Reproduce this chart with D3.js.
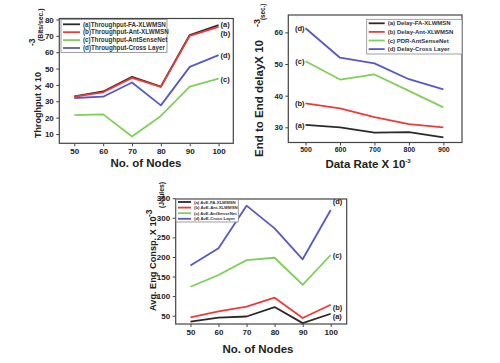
<!DOCTYPE html>
<html>
<head>
<meta charset="utf-8">
<script src="https://cdn.jsdelivr.net/npm/d3@7"></script>
<style>
  body { margin: 0; background: #fff; }
  svg { display: block; font-family: "Liberation Sans", Arial, sans-serif; font-weight: bold; }
</style>
</head>
<body>
<svg id="fig" width="500" height="363"></svg>
<script>
// ---- data ----
const nodes = [50, 60, 70, 80, 90, 100];
const thrFA = [33, 36, 45, 39, 70.5, 76.5];
const thrAnt = [32.8, 35.5, 44.3, 38.8, 70, 75.5];
const thrSense = [21.5, 22, 8.5, 21, 39, 43.8];
const thrCross = [32, 32.8, 41.5, 27.5, 51, 58.2];

const rates = [500, 600, 700, 800, 900];
const delayFA = [30.8, 30, 28.3, 28.5, 26.8];
const delayAnt = [37.6, 36, 33.2, 31, 30];
const pdrSense = [50.9, 45.1, 46.7, 41.5, 36.3];
const delayCross = [61.3, 52, 50.2, 45.2, 42];

const engFA = [35, 45, 48, 72, 31, 55];
const engAnt = [46, 61, 73, 96, 44, 78];
const engSense = [124, 154, 192, 198, 129, 205];
const engCross = [178, 222, 331, 273, 194, 320];

const colors = ["#2a2a2a", "#f03a3a", "#7fd05a", "#5858c4"];
const tags = ["(a)", "(b)", "(c)", "(d)"];

const svg = d3.select("#fig");

function chart(c) {
  const x = d3.scaleLinear().domain(c.xd).range([c.l, c.r]);
  const y = d3.scaleLinear().domain(c.yd).range([c.b, c.t]);
  const g = svg.append("g");

  // axes (ticks outside the frame)
  g.append("g").attr("transform", `translate(0,${c.b})`)
    .call(d3.axisBottom(x).tickValues(c.xt).tickSize(3).tickPadding(c.xpad || 2.5))
    .call(a => a.select(".domain").remove())
    .call(a => a.selectAll("text").attr("font-size", c.xfs || 8).attr("font-family", "inherit").attr("fill", "#222"))
    .call(a => a.selectAll("line").attr("stroke", "#444"));
  g.append("g").attr("transform", `translate(${c.l},0)`)
    .call(d3.axisLeft(y).tickValues(c.yt).tickSize(3).tickPadding(2.5))
    .call(a => a.select(".domain").remove())
    .call(a => a.selectAll("text").attr("font-size", c.yfs || 8).attr("font-family", "inherit").attr("fill", "#222"))
    .call(a => a.selectAll("line").attr("stroke", "#444"));

  // series
  const line = d3.line().x((d, i) => x(c.xs[i])).y(d => y(d));
  c.series.forEach((s, k) => {
    g.append("path").datum(s).attr("d", line)
      .attr("fill", "none").attr("stroke", colors[k]).attr("stroke-width", 1.8)
      .attr("stroke-linejoin", "round");
  });

  // frame
  g.append("rect").attr("x", c.l).attr("y", c.t).attr("width", c.r - c.l).attr("height", c.b - c.t)
    .attr("fill", "none").attr("stroke", "#444").attr("stroke-width", 1.2);

  // curve tags
  c.series.forEach((s, k) => {
    const i = c.tagAt === "start" ? 0 : s.length - 1;
    g.append("text")
      .attr("x", x(c.xs[i]) + (c.tagAt === "start" ? -1 : 2))
      .attr("y", y(s[i]) + c.tagDy[k])
      .attr("text-anchor", c.tagAt === "start" ? "end" : "start")
      .attr("font-size", c.tagFs).attr("fill", "#222").text(tags[k]);
  });

  // legend
  const L = c.leg;
  g.append("rect").attr("x", L.x).attr("y", L.y).attr("width", L.w).attr("height", L.h)
    .attr("fill", "#fff").attr("stroke", "#888").attr("stroke-width", 0.8);
  c.names.forEach((n, k) => {
    const yy = L.y + L.y0 + k * L.dy;
    g.append("line").attr("x1", L.x + 2).attr("x2", L.x + 2 + L.sw).attr("y1", yy).attr("y2", yy)
      .attr("stroke", colors[k]).attr("stroke-width", 1.8);
    g.append("text").attr("x", L.x + 5 + L.sw).attr("y", yy).attr("dy", "0.35em")
      .attr("font-size", L.fs).attr("fill", "#333").text(n);
  });

  // x title
  const xt = g.append("text").attr("x", c.xtitle.x).attr("y", c.xtitle.y)
    .attr("text-anchor", "middle").attr("font-size", 11.5).attr("fill", "#222");
  xt.append("tspan").text(c.xtitle.text);
  if (c.xtitle.sup) xt.append("tspan").attr("font-size", 6).attr("dy", -5).text(c.xtitle.sup);

  // y title parts (rotated)
  c.ytitle.forEach(p => {
    g.append("text").attr("transform", `translate(${p.x},${p.y}) rotate(-90)`)
      .attr("font-size", p.fs).attr("fill", "#222").text(p.text);
  });
}

chart({
  l: 59.3, r: 233.3, t: 18.5, b: 143.3,
  xd: [44.8, 105.1], yd: [4.3, 80.6],
  xt: nodes, yt: [10, 20, 30, 40, 50, 60, 70, 80],
  xs: nodes, series: [thrFA, thrAnt, thrSense, thrCross],
  tagAt: "end", tagDy: [2, 9, 3, 3], tagFs: 7.5,
  names: ["(a)Throughput-FA-XLWMSN", "(b)Throughput-Ant-XLWMSN", "(c)Throughput-AntSenseNet", "(d)Throughput-Cross Layer"],
  leg: { x: 61, y: 19.5, w: 106, h: 33, y0: 4.8, dy: 7.9, sw: 17, fs: 6.3 },
  xtitle: { x: 146, y: 167, text: "No. of Nodes" },
  ytitle: [
    { x: 41, y: 138, fs: 9, text: "Throghput X 10" },
    { x: 35, y: 46, fs: 8.5, text: "-3" },
    { x: 43, y: 41, fs: 6.8, text: "(Bits/sec.)" }
  ]
});

chart({
  l: 288.3, r: 462, t: 15, b: 142.5,
  xd: [450, 954], yd: [25.2, 65.5],
  xt: rates, yt: [30, 40, 50, 60], xfs: 7, yfs: 7.5, xpad: 1.5,
  xs: rates, series: [delayFA, delayAnt, pdrSense, delayCross],
  tagAt: "start", tagDy: [3, 3, 3, 3], tagFs: 7.5,
  names: ["(a) Delay-FA-XLWMSN", "(b) Delay-Ant-XLWMSN", "(c) PDR-AntSenseNet", "(d) Delay-Cross Layer"],
  leg: { x: 366.7, y: 19.3, w: 95.3, h: 34.7, y0: 4, dy: 8.6, sw: 16, fs: 6 },
  xtitle: { x: 368, y: 168, text: "Data Rate X 10", sup: "-3" },
  ytitle: [
    { x: 262.5, y: 157, fs: 11.5, text: "End to End delayX 10" },
    { x: 259.5, y: 27, fs: 9, text: "-3" },
    { x: 265, y: 20, fs: 6.3, text: "(sec.)" }
  ]
});

chart({
  l: 175.7, r: 346.7, t: 199, b: 324,
  xd: [44.74, 105.7], yd: [28.8, 348],
  xt: nodes, yt: [50, 100, 150, 200, 250, 300, 350],
  xs: nodes, series: [engFA, engAnt, engSense, engCross],
  tagAt: "end", tagDy: [5, 5, 3, -6], tagFs: 7.5,
  names: ["(a) AvE-FA-XLWMSN", "(b) AvE-Ant-XLWMSN", "(c) AvE-AntSenseNet", "(d) AvE-Cross Layer"],
  leg: { x: 176, y: 199.5, w: 62.3, h: 22.5, y0: 2.5, dy: 5.6, sw: 13, fs: 4.3 },
  xtitle: { x: 258, y: 353, text: "No. of Nodes" },
  ytitle: [
    { x: 155.5, y: 311, fs: 9.2, text: "Avg. Eng Consp. X 10" },
    { x: 152, y: 217, fs: 8.5, text: "-3" },
    { x: 164, y: 208, fs: 6.8, text: "(Joules)" }
  ]
});
</script>
</body>
</html>
